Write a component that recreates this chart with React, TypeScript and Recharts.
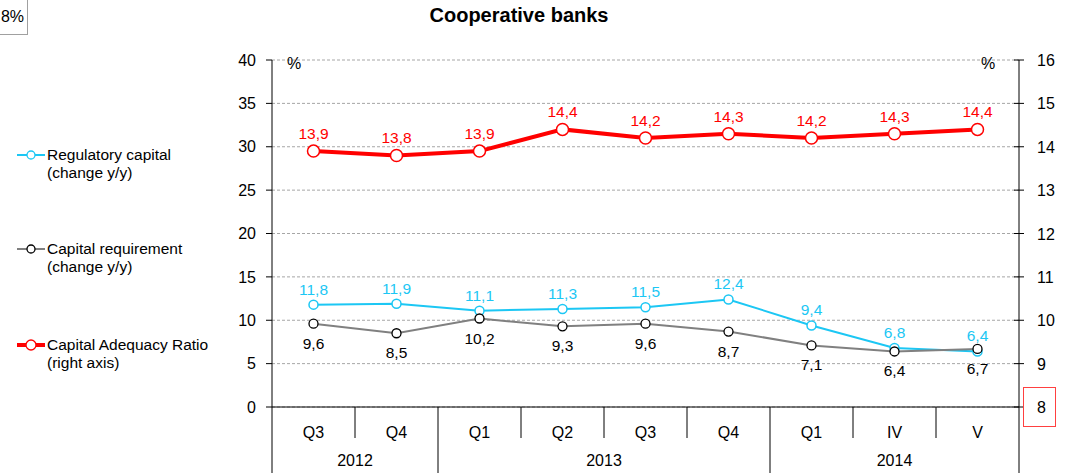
import React from 'react';
import {
  LineChart,
  Line,
  XAxis,
  YAxis,
  CartesianGrid,
  LabelList,
} from 'recharts';

// categories and groups
const quarters = ['Q3', 'Q4', 'Q1', 'Q2', 'Q3', 'Q4', 'Q1', 'IV', 'V'];
const years = ['2012', '2012', '2013', '2013', '2013', '2013', '2014', '2014', '2014'];

// series values (%)
const regulatoryCapital = [11.8, 11.9, 11.1, 11.3, 11.5, 12.4, 9.4, 6.8, 6.4];
const capitalRequirement = [9.6, 8.5, 10.2, 9.3, 9.6, 8.7, 7.1, 6.4, 6.7];
const capitalAdequacy = [13.9, 13.8, 13.9, 14.4, 14.2, 14.3, 14.2, 14.3, 14.4];

const leftTicks = [0, 5, 10, 15, 20, 25, 30, 35, 40];
const rightTicks = [8, 9, 10, 11, 12, 13, 14, 15, 16];

const data = quarters.map((q, i) => ({
  name: `${q}-${years[i]}`,
  quarter: q,
  year: years[i],
  reg: regulatoryCapital[i],
  req: capitalRequirement[i],
  car: capitalAdequacy[i],
}));

const W = 1067;
const H = 473;
const PLOT_LEFT = 272;
const PLOT_RIGHT = 1019;
const STEP = (PLOT_RIGHT - PLOT_LEFT) / quarters.length;
const FONT = '"Liberation Sans", Arial, sans-serif';

const BLUE = '#1CC7F4';
const GREY = '#808080';
const RED = '#FF0000';

const fmt = (v: any) => Number(v).toFixed(1).replace('.', ',');

const CategoryTick = (props: any) => {
  const { x, y, index } = props;
  const i = index ?? props.payload?.index ?? 0;
  const left = x - STEP / 2;
  const groupStart = i === 0 || years[i] !== years[i - 1];
  const isLast = i === quarters.length - 1;
  let yearLabel = null;
  if (groupStart) {
    let n = 0;
    while (i + n < years.length && years[i + n] === years[i]) n++;
    yearLabel = (
      <text x={left + (n * STEP) / 2} y={y + 59} textAnchor="middle" fontSize={16} fill="#000">
        {years[i]}
      </text>
    );
  }
  return (
    <g>
      <line x1={left} x2={left} y1={y} y2={groupStart ? y + 66 : y + 31} stroke="#000" strokeWidth={1} />
      {isLast && <line x1={x + STEP / 2} x2={x + STEP / 2} y1={y} y2={y + 66} stroke="#000" />}
      <text x={x} y={y + 31} textAnchor="middle" fontSize={16} fill="#000">
        {quarters[i]}
      </text>
      {yearLabel}
    </g>
  );
};

const RightTick = (props: any) => {
  const { x, y, payload } = props;
  return (
    <g>
      <line x1={x - 5} x2={x + 5} y1={y} y2={y} stroke="#000" />
      {payload.value === 8 && (
        <rect x={x + 4.5} y={y - 19.5} width={32} height={39} fill="none" stroke="#FF4040" strokeWidth={1} />
      )}
      <text x={x + 18} y={y + 6} fontSize={16} fill="#000">
        {payload.value}
      </text>
    </g>
  );
};

const legendItems = [
  { lines: ['Regulatory capital', '(change y/y)'], color: BLUE, dot: BLUE, width: 2, r: 4, y: 155 },
  { lines: ['Capital requirement', '(change y/y)'], color: GREY, dot: '#000', width: 2, r: 4, y: 249 },
  { lines: ['Capital Adequacy Ratio', '(right axis)'], color: RED, dot: RED, width: 4, r: 5, y: 345 },
];

const App: React.FC = () => {
  return (
    <div
      style={{
        position: 'absolute',
        left: 0,
        top: 0,
        width: W,
        height: H,
        overflow: 'hidden',
        background: '#fff',
        fontFamily: FONT,
      }}
    >
      <LineChart width={W} height={H} data={data} margin={{ top: 60, right: 8, bottom: 0, left: 222 }}>
        <CartesianGrid yAxisId="left" vertical={false} stroke="#A6A6A6" strokeDasharray="3 2" />
        <XAxis
          dataKey="name"
          height={66}
          padding={{ left: STEP / 2, right: STEP / 2 }}
          axisLine={{ stroke: '#000' }}
          tickLine={false}
          tickSize={0}
          tickMargin={0}
          interval={0}
          tick={<CategoryTick />}
        />
        <YAxis
          yAxisId="left"
          width={50}
          domain={[0, 40]}
          ticks={leftTicks}
          interval={0}
          tickSize={6}
          tickMargin={10}
          axisLine={{ stroke: '#000' }}
          tickLine={{ stroke: '#000' }}
          tick={{ fontSize: 16, fill: '#000' }}
        />
        <YAxis
          yAxisId="right"
          orientation="right"
          width={40}
          domain={[8, 16]}
          ticks={rightTicks}
          interval={0}
          tickSize={0}
          tickMargin={0}
          axisLine={{ stroke: '#000' }}
          tickLine={false}
          tick={<RightTick />}
        />
        <Line
          yAxisId="left"
          dataKey="reg"
          stroke={BLUE}
          strokeWidth={2}
          dot={{ r: 4.5, fill: '#fff', stroke: BLUE, strokeWidth: 1.5 }}
          isAnimationActive={false}
        >
          <LabelList dataKey="reg" position="top" offset={10} fill={BLUE} fontSize={15.5} formatter={fmt} />
        </Line>
        <Line
          yAxisId="left"
          dataKey="req"
          stroke={GREY}
          strokeWidth={2}
          dot={{ r: 4.5, fill: '#fff', stroke: '#000', strokeWidth: 1.3 }}
          isAnimationActive={false}
        >
          <LabelList dataKey="req" position="bottom" offset={14} fill="#000" fontSize={15.5} formatter={fmt} />
        </Line>
        <Line
          yAxisId="right"
          dataKey="car"
          stroke={RED}
          strokeWidth={4}
          dot={{ r: 6, fill: '#fff', stroke: RED, strokeWidth: 1.5 }}
          isAnimationActive={false}
        >
          <LabelList dataKey="car" position="top" offset={12} fill={RED} fontSize={15.5} formatter={fmt} />
        </Line>
      </LineChart>

      <svg
        width={W}
        height={H}
        style={{ position: 'absolute', left: 0, top: 0, pointerEvents: 'none', fontFamily: FONT }}
      >
        <text x={519} y={22} textAnchor="middle" fontSize={20} fontWeight="bold" fill="#000">
          Cooperative banks
        </text>
        <rect x={-20.5} y={-1.5} width={48} height={36} fill="#fff" stroke="#A0A0A0" />
        <text x={24} y={22} textAnchor="end" fontSize={16} fill="#000">
          8%
        </text>
        <text x={294} y={69} textAnchor="middle" fontSize={16} fill="#000">
          %
        </text>
        <text x={988} y={69} textAnchor="middle" fontSize={16} fill="#000">
          %
        </text>
        {legendItems.map((it) => (
          <g key={it.lines[0]}>
            <line x1={17} x2={45} y1={it.y} y2={it.y} stroke={it.color} strokeWidth={it.width} />
            <circle cx={31} cy={it.y} r={it.r} fill="#fff" stroke={it.dot} strokeWidth={1.3} />
            {it.lines.map((t, k) => (
              <text key={t} x={47} y={it.y + 5 + k * 18} fontSize={15.5} fill="#000">
                {t}
              </text>
            ))}
          </g>
        ))}
      </svg>
    </div>
  );
};

export default App;
